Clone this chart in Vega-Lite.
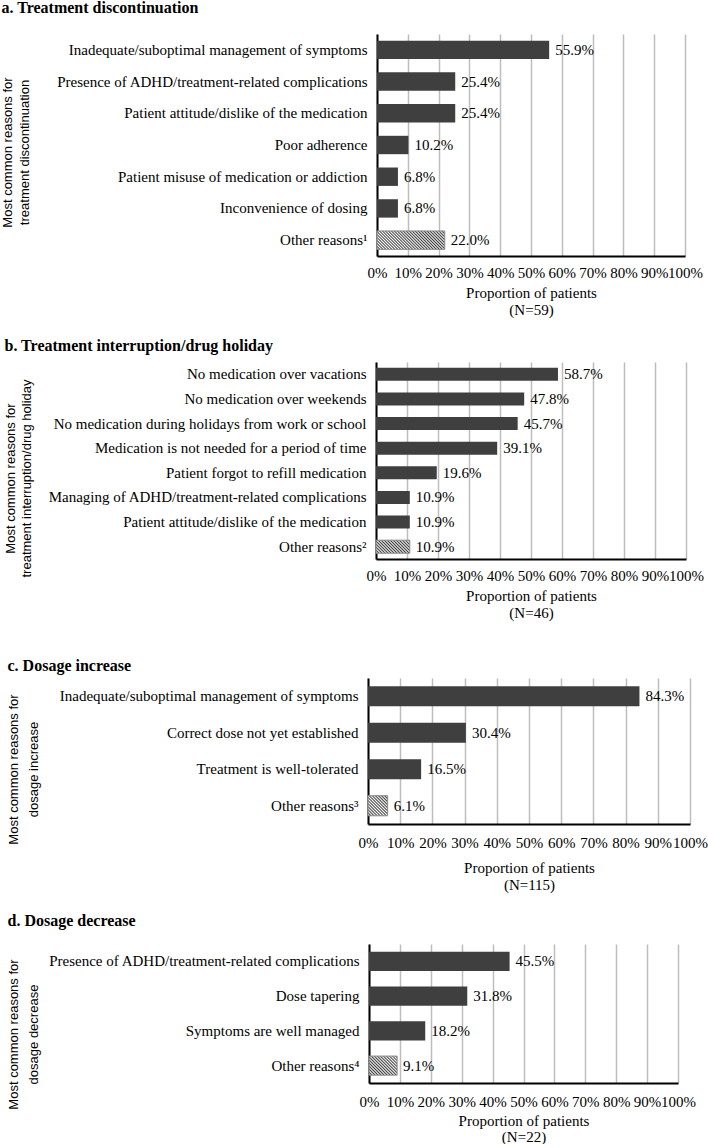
{
"$schema": "https://vega.github.io/schema/vega-lite/v6.json",
"padding": {"left": 1, "top": 0, "right": 0, "bottom": 0},
"background": "white",
"spacing": 21,
"config": {
  "view": {"stroke": null},
  "axis": {"labelFont": "Liberation Serif", "labelFontSize": 15, "labelColor": "black", "titleFont": "Liberation Serif", "titleFontSize": 15, "titleFontWeight": "normal", "titleColor": "black", "domainColor": "black", "domainWidth": 2, "ticks": false, "tickSize": 0},
  "axisX": {"grid": true, "gridColor": "#bdbdbd", "gridWidth": 1.5, "labelOverlap": false, "labelFlush": false},
  "axisY": {"grid": false, "labelPadding": 10, "labelLimit": 400, "titleFont": "Liberation Sans", "titleFontSize": 13, "titleBaseline": "middle", "titleAlign": "center"}
},
"vconcat": [
{
  "width": 317, "height": 222,
  "title": {"text": "a. Treatment discontinuation", "anchor": "start", "frame": "bounds", "font": "Liberation Serif", "fontSize": 16, "fontWeight": "bold", "color": "black", "offset": 18},
  "data": {"values": [
    {"reason": "Inadequate/suboptimal management of symptoms", "pct": 0.559, "other": false},
    {"reason": "Presence of ADHD/treatment-related complications", "pct": 0.254, "other": false},
    {"reason": "Patient attitude/dislike of the medication", "pct": 0.254, "other": false},
    {"reason": "Poor adherence", "pct": 0.102, "other": false},
    {"reason": "Patient misuse of medication or addiction", "pct": 0.068, "other": false},
    {"reason": "Inconvenience of dosing", "pct": 0.068, "other": false},
    {"reason": "Other reasons¹", "pct": 0.220, "other": true}
  ]},
  "encoding": {
    "y": {"field": "reason", "type": "nominal", "sort": null, "scale": {"paddingInner": 0.42, "paddingOuter": 0.21},
          "axis": {"offset": -9, "title": ["Most common reasons for", "treatment discontinuation"], "titleX": -369.5, "titleY": 118, "titleLineHeight": 17}},
    "x": {"field": "pct", "type": "quantitative", "scale": {"domain": [0, 1], "range": [9, 317]},
          "axis": {"format": ".0%", "values": [0, 0.1, 0.2, 0.3, 0.4, 0.5, 0.6, 0.7, 0.8, 0.9, 1], "labelPadding": 9, "titlePadding": 5, "titleLineHeight": 17, "title": ["Proportion of patients", "(N=59)"]}}
  },
  "layer": [
    {"mark": {"type": "bar", "stroke": "#8a8a8a"},
     "encoding": {
       "fill": {"condition": {"test": "datum.other", "value": {"gradient": "linear", "x1": 0, "y1": 1, "x2": 1.184, "y2": 0.679, "stops": [{"offset":0,"color":"#404040"},{"offset":0.0172,"color":"#fff"},{"offset":0.0345,"color":"#404040"},{"offset":0.0517,"color":"#fff"},{"offset":0.069,"color":"#404040"},{"offset":0.0862,"color":"#fff"},{"offset":0.1034,"color":"#404040"},{"offset":0.1207,"color":"#fff"},{"offset":0.1379,"color":"#404040"},{"offset":0.1552,"color":"#fff"},{"offset":0.1724,"color":"#404040"},{"offset":0.1897,"color":"#fff"},{"offset":0.2069,"color":"#404040"},{"offset":0.2241,"color":"#fff"},{"offset":0.2414,"color":"#404040"},{"offset":0.2586,"color":"#fff"},{"offset":0.2759,"color":"#404040"},{"offset":0.2931,"color":"#fff"},{"offset":0.3103,"color":"#404040"},{"offset":0.3276,"color":"#fff"},{"offset":0.3448,"color":"#404040"},{"offset":0.3621,"color":"#fff"},{"offset":0.3793,"color":"#404040"},{"offset":0.3966,"color":"#fff"},{"offset":0.4138,"color":"#404040"},{"offset":0.431,"color":"#fff"},{"offset":0.4483,"color":"#404040"},{"offset":0.4655,"color":"#fff"},{"offset":0.4828,"color":"#404040"},{"offset":0.5,"color":"#fff"},{"offset":0.5172,"color":"#404040"},{"offset":0.5345,"color":"#fff"},{"offset":0.5517,"color":"#404040"},{"offset":0.569,"color":"#fff"},{"offset":0.5862,"color":"#404040"},{"offset":0.6034,"color":"#fff"},{"offset":0.6207,"color":"#404040"},{"offset":0.6379,"color":"#fff"},{"offset":0.6552,"color":"#404040"},{"offset":0.6724,"color":"#fff"},{"offset":0.6897,"color":"#404040"},{"offset":0.7069,"color":"#fff"},{"offset":0.7241,"color":"#404040"},{"offset":0.7414,"color":"#fff"},{"offset":0.7586,"color":"#404040"},{"offset":0.7759,"color":"#fff"},{"offset":0.7931,"color":"#404040"},{"offset":0.8103,"color":"#fff"},{"offset":0.8276,"color":"#404040"},{"offset":0.8448,"color":"#fff"},{"offset":0.8621,"color":"#404040"},{"offset":0.8793,"color":"#fff"},{"offset":0.8966,"color":"#404040"},{"offset":0.9138,"color":"#fff"},{"offset":0.931,"color":"#404040"},{"offset":0.9483,"color":"#fff"},{"offset":0.9655,"color":"#404040"},{"offset":0.9828,"color":"#fff"},{"offset":1,"color":"#404040"}]}}, "value": "#3f3f3f"},
       "strokeWidth": {"condition": {"test": "datum.other", "value": 1}, "value": 0}
     }},
    {"mark": {"type": "text", "align": "left", "baseline": "middle", "dx": 6, "font": "Liberation Serif", "fontSize": 15, "color": "black"},
     "encoding": {"text": {"field": "pct", "type": "quantitative", "format": ".1%"}}}
  ]
},
{
  "width": 318, "height": 197,
  "title": {"text": "b. Treatment interruption/drug holiday", "anchor": "start", "frame": "bounds", "font": "Liberation Serif", "fontSize": 16, "fontWeight": "bold", "color": "black", "offset": 8},
  "data": {"values": [
    {"reason": "No medication over vacations", "pct": 0.587, "other": false},
    {"reason": "No medication over weekends", "pct": 0.478, "other": false},
    {"reason": "No medication during holidays from work or school", "pct": 0.457, "other": false},
    {"reason": "Medication is not needed for a period of time", "pct": 0.391, "other": false},
    {"reason": "Patient forgot to refill medication", "pct": 0.196, "other": false},
    {"reason": "Managing of ADHD/treatment-related complications", "pct": 0.109, "other": false},
    {"reason": "Patient attitude/dislike of the medication", "pct": 0.109, "other": false},
    {"reason": "Other reasons²", "pct": 0.109, "other": true}
  ]},
  "encoding": {
    "y": {"field": "reason", "type": "nominal", "sort": null, "scale": {"paddingInner": 0.47, "paddingOuter": 0.235},
          "axis": {"offset": -8, "title": ["Most common reasons for", "treatment interruption/drug holiday"], "titleX": -365.5, "titleY": 116, "titleLineHeight": 16}},
    "x": {"field": "pct", "type": "quantitative", "scale": {"domain": [0, 1], "range": [8, 318]},
          "axis": {"format": ".0%", "values": [0, 0.1, 0.2, 0.3, 0.4, 0.5, 0.6, 0.7, 0.8, 0.9, 1], "labelPadding": 9, "titlePadding": 5, "titleLineHeight": 17, "title": ["Proportion of patients", "(N=46)", " "]}}
  },
  "layer": [
    {"mark": {"type": "bar", "stroke": "#8a8a8a"},
     "encoding": {
       "fill": {"condition": {"test": "datum.other", "value": {"gradient": "linear", "x1": 0, "y1": 1, "x2": 1.207, "y2": 0.536, "stops": [{"offset":0,"color":"#404040"},{"offset":0.0323,"color":"#fff"},{"offset":0.0645,"color":"#404040"},{"offset":0.0968,"color":"#fff"},{"offset":0.129,"color":"#404040"},{"offset":0.1613,"color":"#fff"},{"offset":0.1935,"color":"#404040"},{"offset":0.2258,"color":"#fff"},{"offset":0.2581,"color":"#404040"},{"offset":0.2903,"color":"#fff"},{"offset":0.3226,"color":"#404040"},{"offset":0.3548,"color":"#fff"},{"offset":0.3871,"color":"#404040"},{"offset":0.4194,"color":"#fff"},{"offset":0.4516,"color":"#404040"},{"offset":0.4839,"color":"#fff"},{"offset":0.5161,"color":"#404040"},{"offset":0.5484,"color":"#fff"},{"offset":0.5806,"color":"#404040"},{"offset":0.6129,"color":"#fff"},{"offset":0.6452,"color":"#404040"},{"offset":0.6774,"color":"#fff"},{"offset":0.7097,"color":"#404040"},{"offset":0.7419,"color":"#fff"},{"offset":0.7742,"color":"#404040"},{"offset":0.8065,"color":"#fff"},{"offset":0.8387,"color":"#404040"},{"offset":0.871,"color":"#fff"},{"offset":0.9032,"color":"#404040"},{"offset":0.9355,"color":"#fff"},{"offset":0.9677,"color":"#404040"},{"offset":1,"color":"#fff"}]}}, "value": "#3f3f3f"},
       "strokeWidth": {"condition": {"test": "datum.other", "value": 1}, "value": 0}
     }},
    {"mark": {"type": "text", "align": "left", "baseline": "middle", "dx": 6, "font": "Liberation Serif", "fontSize": 15, "color": "black"},
     "encoding": {"text": {"field": "pct", "type": "quantitative", "format": ".1%"}}}
  ]
},
{
  "width": 322, "height": 146,
  "title": {"text": "c. Dosage increase", "anchor": "start", "frame": "bounds", "font": "Liberation Serif", "fontSize": 16, "fontWeight": "bold", "color": "black", "offset": 4},
  "data": {"values": [
    {"reason": "Inadequate/suboptimal management of symptoms  ", "pct": 0.843, "other": false},
    {"reason": "Correct dose not yet established", "pct": 0.304, "other": false},
    {"reason": "Treatment is well-tolerated", "pct": 0.165, "other": false},
    {"reason": "Other reasons³", "pct": 0.061, "other": true}
  ]},
  "encoding": {
    "y": {"field": "reason", "type": "nominal", "sort": null, "scale": {"paddingInner": 0.45, "paddingOuter": 0.225},
          "axis": {"title": ["Most common reasons for", "dosage increase"], "titleX": -354.5, "titleY": 91, "titleLineHeight": 20}},
    "x": {"field": "pct", "type": "quantitative", "scale": {"domain": [0, 1]},
          "axis": {"format": ".0%", "values": [0, 0.1, 0.2, 0.3, 0.4, 0.5, 0.6, 0.7, 0.8, 0.9, 1], "labelPadding": 11, "titlePadding": 10, "titleLineHeight": 17, "title": ["Proportion of patients", "(N=115)"]}}
  },
  "layer": [
    {"mark": {"type": "bar", "stroke": "#8a8a8a"},
     "encoding": {
       "fill": {"condition": {"test": "datum.other", "value": {"gradient": "linear", "x1": 0, "y1": 1, "x2": 0.987, "y2": -0.012, "stops": [{"offset":0,"color":"#404040"},{"offset":0.0385,"color":"#fff"},{"offset":0.0769,"color":"#404040"},{"offset":0.1154,"color":"#fff"},{"offset":0.1538,"color":"#404040"},{"offset":0.1923,"color":"#fff"},{"offset":0.2308,"color":"#404040"},{"offset":0.2692,"color":"#fff"},{"offset":0.3077,"color":"#404040"},{"offset":0.3462,"color":"#fff"},{"offset":0.3846,"color":"#404040"},{"offset":0.4231,"color":"#fff"},{"offset":0.4615,"color":"#404040"},{"offset":0.5,"color":"#fff"},{"offset":0.5385,"color":"#404040"},{"offset":0.5769,"color":"#fff"},{"offset":0.6154,"color":"#404040"},{"offset":0.6538,"color":"#fff"},{"offset":0.6923,"color":"#404040"},{"offset":0.7308,"color":"#fff"},{"offset":0.7692,"color":"#404040"},{"offset":0.8077,"color":"#fff"},{"offset":0.8462,"color":"#404040"},{"offset":0.8846,"color":"#fff"},{"offset":0.9231,"color":"#404040"},{"offset":0.9615,"color":"#fff"},{"offset":1,"color":"#404040"}]}}, "value": "#3f3f3f"},
       "strokeWidth": {"condition": {"test": "datum.other", "value": 1}, "value": 0}
     }},
    {"mark": {"type": "text", "align": "left", "baseline": "middle", "dx": 6, "font": "Liberation Serif", "fontSize": 15, "color": "black"},
     "encoding": {"text": {"field": "pct", "type": "quantitative", "format": ".1%"}}}
  ]
},
{
  "width": 310, "height": 139,
  "title": {"text": "d. Dosage decrease", "anchor": "start", "frame": "bounds", "font": "Liberation Serif", "fontSize": 16, "fontWeight": "bold", "color": "black", "offset": 15},
  "data": {"values": [
    {"reason": "Presence of ADHD/treatment-related complications  ", "pct": 0.455, "other": false},
    {"reason": "Dose tapering", "pct": 0.318, "other": false},
    {"reason": "Symptoms are well managed ", "pct": 0.182, "other": false},
    {"reason": "Other reasons⁴", "pct": 0.091, "other": true}
  ]},
  "encoding": {
    "y": {"field": "reason", "type": "nominal", "sort": null, "scale": {"paddingInner": 0.45, "paddingOuter": 0.225},
          "axis": {"offset": -1, "title": ["Most common reasons for", "dosage decrease"], "titleX": -355.5, "titleY": 90, "titleLineHeight": 20}},
    "x": {"field": "pct", "type": "quantitative", "scale": {"domain": [0, 1], "range": [1, 310]},
          "axis": {"format": ".0%", "values": [0, 0.1, 0.2, 0.3, 0.4, 0.5, 0.6, 0.7, 0.8, 0.9, 1], "labelPadding": 11, "titlePadding": 4, "titleLineHeight": 16, "title": ["Proportion of patients", "(N=22)"]}}
  },
  "layer": [
    {"mark": {"type": "bar", "stroke": "#8a8a8a"},
     "encoding": {
       "fill": {"condition": {"test": "datum.other", "value": {"gradient": "linear", "x1": 0, "y1": 1, "x2": 1.148, "y2": 0.22, "stops": [{"offset":0,"color":"#404040"},{"offset":0.0323,"color":"#fff"},{"offset":0.0645,"color":"#404040"},{"offset":0.0968,"color":"#fff"},{"offset":0.129,"color":"#404040"},{"offset":0.1613,"color":"#fff"},{"offset":0.1935,"color":"#404040"},{"offset":0.2258,"color":"#fff"},{"offset":0.2581,"color":"#404040"},{"offset":0.2903,"color":"#fff"},{"offset":0.3226,"color":"#404040"},{"offset":0.3548,"color":"#fff"},{"offset":0.3871,"color":"#404040"},{"offset":0.4194,"color":"#fff"},{"offset":0.4516,"color":"#404040"},{"offset":0.4839,"color":"#fff"},{"offset":0.5161,"color":"#404040"},{"offset":0.5484,"color":"#fff"},{"offset":0.5806,"color":"#404040"},{"offset":0.6129,"color":"#fff"},{"offset":0.6452,"color":"#404040"},{"offset":0.6774,"color":"#fff"},{"offset":0.7097,"color":"#404040"},{"offset":0.7419,"color":"#fff"},{"offset":0.7742,"color":"#404040"},{"offset":0.8065,"color":"#fff"},{"offset":0.8387,"color":"#404040"},{"offset":0.871,"color":"#fff"},{"offset":0.9032,"color":"#404040"},{"offset":0.9355,"color":"#fff"},{"offset":0.9677,"color":"#404040"},{"offset":1,"color":"#fff"}]}}, "value": "#3f3f3f"},
       "strokeWidth": {"condition": {"test": "datum.other", "value": 1}, "value": 0}
     }},
    {"mark": {"type": "text", "align": "left", "baseline": "middle", "dx": 6, "font": "Liberation Serif", "fontSize": 15, "color": "black"},
     "encoding": {"text": {"field": "pct", "type": "quantitative", "format": ".1%"}}}
  ]
}
]
}
